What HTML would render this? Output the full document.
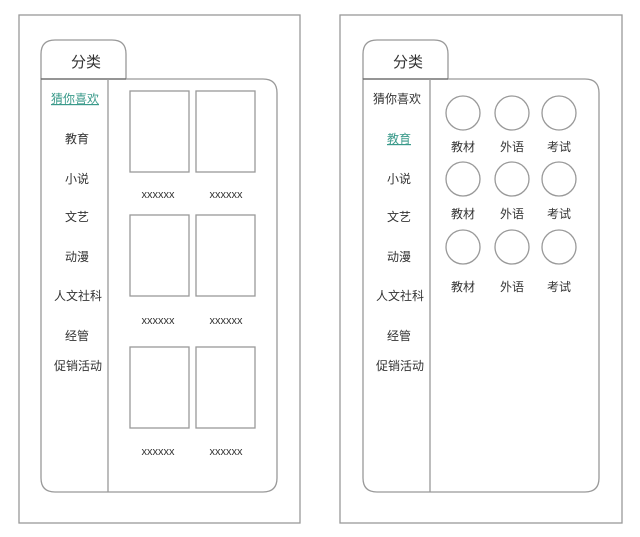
<!DOCTYPE html>
<html><head><meta charset="utf-8"><style>
html,body{margin:0;padding:0;background:#fff;}
svg text{font-family:"Liberation Sans","Noto Sans CJK SC",sans-serif;fill:#333;}
</style></head><body>
<svg width="640" height="532" viewBox="0 0 640 532" xmlns="http://www.w3.org/2000/svg">
<g fill="none" stroke="#999" stroke-width="1.3">
<rect x="19" y="15" width="281" height="508"/>
<path d="M41 79 V54 Q41 40 55 40 H112 Q126 40 126 54 V79"/>
<path d="M41 79 H263 Q277 79 277 93 V478 Q277 492 263 492 H55 Q41 492 41 478 Z"/>
<line x1="41" y1="79" x2="126" y2="79" stroke="#666"/>
<line x1="108" y1="79" x2="108" y2="492"/>
<rect x="130" y="91" width="59" height="81"/><rect x="196" y="91" width="59" height="81"/>
<rect x="130" y="215" width="59" height="81"/><rect x="196" y="215" width="59" height="81"/>
<rect x="130" y="347" width="59" height="81"/><rect x="196" y="347" width="59" height="81"/>

<rect x="340" y="15" width="282" height="508"/>
<path d="M363 79 V54 Q363 40 377 40 H434 Q448 40 448 54 V79"/>
<path d="M363 79 H585 Q599 79 599 93 V478 Q599 492 585 492 H377 Q363 492 363 478 Z"/>
<line x1="363" y1="79" x2="448" y2="79" stroke="#666"/>
<line x1="430" y1="79" x2="430" y2="492"/>
<circle cx="463" cy="113" r="17"/><circle cx="512" cy="113" r="17"/><circle cx="559" cy="113" r="17"/>
<circle cx="463" cy="179" r="17"/><circle cx="512" cy="179" r="17"/><circle cx="559" cy="179" r="17"/>
<circle cx="463" cy="247" r="17"/><circle cx="512" cy="247" r="17"/><circle cx="559" cy="247" r="17"/>
</g>
<g font-size="12" text-anchor="middle">
<text x="86" y="67" font-size="15">分类</text>
<text x="75" y="103" style="fill:#3a9a8a" text-decoration="underline">猜你喜欢</text>
<text x="77" y="143">教育</text>
<text x="77" y="183">小说</text>
<text x="77" y="221">文艺</text>
<text x="77" y="261">动漫</text>
<text x="78" y="300">人文社科</text>
<text x="77" y="340">经管</text>
<text x="78" y="370">促销活动</text>
<text x="158" y="198" font-size="11">xxxxxx</text><text x="226" y="198" font-size="11">xxxxxx</text>
<text x="158" y="324" font-size="11">xxxxxx</text><text x="226" y="324" font-size="11">xxxxxx</text>
<text x="158" y="455" font-size="11">xxxxxx</text><text x="226" y="455" font-size="11">xxxxxx</text>

<text x="408" y="67" font-size="15">分类</text>
<text x="397" y="103">猜你喜欢</text>
<text x="399" y="143" style="fill:#3a9a8a" text-decoration="underline">教育</text>
<text x="399" y="183">小说</text>
<text x="399" y="221">文艺</text>
<text x="399" y="261">动漫</text>
<text x="400" y="300">人文社科</text>
<text x="399" y="340">经管</text>
<text x="400" y="370">促销活动</text>
<text x="463" y="151">教材</text><text x="512" y="151">外语</text><text x="559" y="151">考试</text>
<text x="463" y="218">教材</text><text x="512" y="218">外语</text><text x="559" y="218">考试</text>
<text x="463" y="291">教材</text><text x="512" y="291">外语</text><text x="559" y="291">考试</text>
</g>
</svg>
</body></html>
